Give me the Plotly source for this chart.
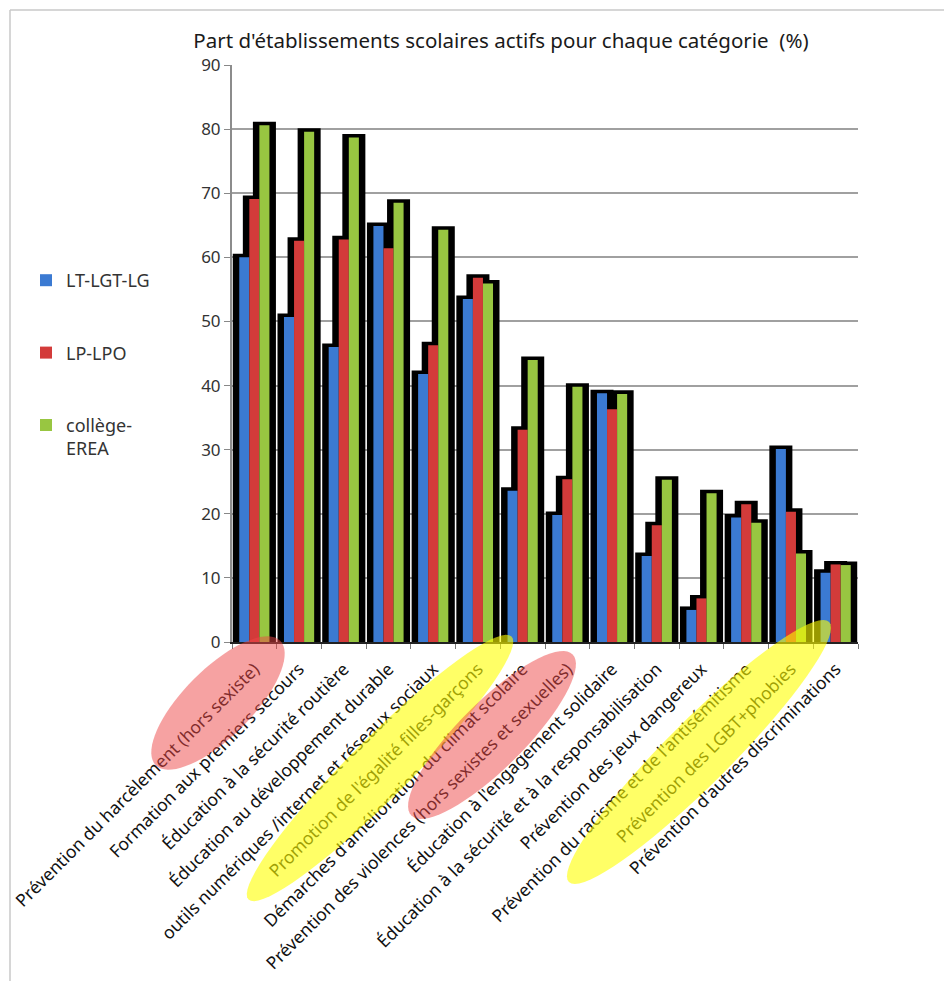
import math
import plotly.graph_objects as go

categories = [
    "Prévention du harcèlement (hors sexiste)",
    "Formation aux premiers secours",
    "Éducation à la sécurité routière",
    "Éducation au développement durable",
    "outils numériques /internet et réseaux sociaux",
    "Promotion de l'égalité filles-garçons",
    "Démarches d'amélioration du climat scolaire",
    "Prévention des violences (hors sexistes et sexuelles)",
    "Éducation à l'engagement solidaire",
    "Éducation à la sécurité et à la responsabilisation",
    "Prévention des jeux dangereux",
    "Prévention du racisme et de l'antisémitisme",
    "Prévention des LGBT+phobies",
    "Prévention d'autres discriminations",
]
series_names = ["LT-LGT-LG", "LP-LPO", "collège-<br>EREA"]
lt_lgt_lg = [60.0, 50.7, 46.0, 64.9, 41.8, 53.5, 23.6, 19.8, 38.8, 13.4, 5.0, 19.4, 30.1, 10.8]
lp_lpo = [69.1, 62.6, 62.8, 61.4, 46.3, 56.8, 33.1, 25.4, 36.3, 18.2, 6.8, 21.5, 20.3, 12.1]
college_erea = [80.6, 79.6, 78.7, 68.5, 64.3, 55.9, 44.0, 39.8, 38.7, 25.3, 23.2, 18.6, 13.8, 12.0]
series_values = [lt_lgt_lg, lp_lpo, college_erea]
colors = ["#3b7ad2", "#d33b3a", "#98c641"]
y_ticks = [0, 10, 20, 30, 40, 50, 60, 70, 80, 90]

# layout geometry (pixels)
W, H = 944, 981
L, R, T, B = 232, 86, 65, 339
PW, PH = W - L - R, H - T - B

bar_w = 0.225
shadow_ext = 0.145
shadow_top = 0.55

fig = go.Figure()
# black shadows behind
for i, vals in enumerate(series_values):
    off = -1.5 * bar_w + i * bar_w
    fig.add_trace(go.Bar(
        x=categories, y=[v + shadow_top for v in vals],
        width=bar_w + 2 * shadow_ext, offset=off - shadow_ext,
        marker=dict(color="#000000", line=dict(width=0)),
        showlegend=False, hoverinfo="skip",
    ))
# coloured bars
for i, (name, vals) in enumerate(zip(series_names, series_values)):
    off = -1.5 * bar_w + i * bar_w
    fig.add_trace(go.Bar(
        x=categories, y=vals, name=name,
        width=bar_w, offset=off,
        marker=dict(color=colors[i], line=dict(width=0)),
        legendgroup=f"g{i}",
    ))


def px2paper(px, py):
    return (px - L) / PW, (H - B - py) / PH


def ellipse_path(cx, cy, a, b, ang_deg=45, n=72):
    th = math.radians(ang_deg)
    ux, uy = math.cos(th), -math.sin(th)
    vx, vy = math.sin(th), math.cos(th)
    pts = []
    for k in range(n):
        t = 2 * math.pi * k / n
        px = cx + a * math.cos(t) * ux + b * math.sin(t) * vx
        py = cy + a * math.cos(t) * uy + b * math.sin(t) * vy
        x, y = px2paper(px, py)
        pts.append(f"{x:.5f},{y:.5f}")
    return "M" + " L".join(pts) + " Z"


shapes = []
for (cx, cy, a, b, col) in [
    (218, 703, 88, 34, "rgba(238,70,70,0.5)"),
    (380, 768, 186, 30, "rgba(255,255,0,0.6)"),
    (492, 735, 114, 33, "rgba(238,70,70,0.5)"),
    (699, 752, 184, 32, "rgba(255,255,0,0.6)"),
]:
    shapes.append(dict(type="path", path=ellipse_path(cx, cy, a, b), xref="paper", yref="paper",
                       fillcolor=col, line=dict(width=0), layer="above"))

# outer frame lines
x0p, y0p = px2paper(10, 10)
x1p, _ = px2paper(944, 10)
_, ybp = px2paper(10, 981)
shapes.append(dict(type="line", xref="paper", yref="paper", x0=x0p, y0=y0p, x1=x1p, y1=y0p,
                   line=dict(color="#c8c8c8", width=1.5)))
shapes.append(dict(type="line", xref="paper", yref="paper", x0=x0p, y0=y0p, x1=x0p, y1=ybp,
                   line=dict(color="#c8c8c8", width=1.5)))

lx, ly = px2paper(26, 262)
fig.update_layout(
    width=W, height=H,
    margin=dict(l=L, r=R, t=T, b=B, autoexpand=False),
    paper_bgcolor="white", plot_bgcolor="white",
    barmode="overlay",
    title=dict(text="Part d'établissements scolaires actifs pour chaque catégorie  (%)",
               x=(501) / W, xanchor="center", y=1 - 41 / H, yanchor="middle",
               font=dict(family="Noto Sans", size=20.5, color="#1a1a1a")),
    font=dict(family="Noto Sans", size=16, color="#222"),
    showlegend=True,
    legend=dict(x=lx, y=ly, xanchor="left", yanchor="top", traceorder="grouped",
                tracegroupgap=46, valign="top", bgcolor="rgba(0,0,0,0)",
                font=dict(family="Noto Sans", size=18, color="#333")),
    xaxis=dict(type="category", range=[-0.5, 13.5], tickangle=-45, tickson="boundaries",
               ticks="outside", ticklen=5, tickcolor="#777", showgrid=False,
               showline=True, linecolor="#222", linewidth=2, ticklabelstandoff=8,
               tickfont=dict(family="Noto Sans", size=17.5, color="#111")),
    yaxis=dict(range=[0, 90], tickvals=y_ticks, ticks="outside", ticklen=6, tickcolor="#888",
               showgrid=True, gridcolor="#a0a0a0", gridwidth=2,
               showline=True, linecolor="#8c8c8c", linewidth=2, zeroline=False,
               tickfont=dict(family="Noto Sans", size=17, color="#333")),
    shapes=shapes,
)

fig.write_html("out.html")
